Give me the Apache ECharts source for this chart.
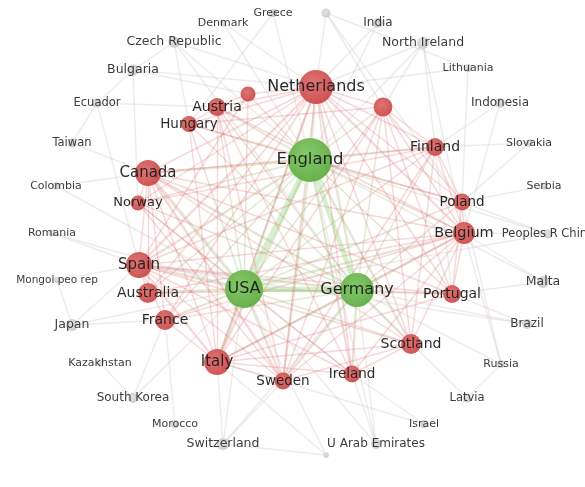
<!DOCTYPE html>
<html><head><meta charset="utf-8">
<script src="https://cdn.jsdelivr.net/npm/echarts@6/dist/echarts.min.js"></script>
<style>html,body{margin:0;padding:0;background:#fff;}#c{width:585px;height:487px;}</style>
</head><body><div id="c"></div>
<script>
// Map data (layout coordinates, occurrence weights, cluster)
const names = ["England","USA","Germany","Netherlands","Canada","Spain","Italy","Belgium","Scotland","France","Australia","Finland","Poland","Portugal","Austria","Hungary","Norway","Sweden","Ireland","Unlabelled A","Unlabelled B",
"Greece","Unlabelled C","Denmark","India","North Ireland","Czech Republic","Lithuania","Bulgaria","Ecuador","Indonesia","Taiwan","Slovakia","Colombia","Serbia","Romania","Peoples R China","Mongol peo rep","Malta","Japan","Brazil","Kazakhstan","Russia","South Korea","Latvia","Morocco","Israel","Switzerland","U Arab Emirates","Unlabelled D"];
const xs = [310,244,357,316,148,139,217,464,411,165,148,435,462,452,217,189,138,283,352,248,383,
273,326,223,378,423,174,468,133,97,500,72,529,56,544,52,548,57,543,72,527,100,501,133,467,175,424,223,376,326];
const ys = [160,289,290,87,173,265,362,233,344,320,293,147,202,294,107,124,203,381,374,94,107,
13,13,23,23,43,42,68,70,103,103,143,143,186,186,233,234,280,282,325,324,363,364,398,398,424,424,444,444,455];
const weights = [121,90,72,72,42,42,42,30,25,25,25,20,18,20,20,16,14,18,18,14,22,
4,5,3,6,9,8,4,8,5,6,5,3.5,3.5,3,3,5,2.5,9,9,6,3.5,4,6,5,4,4,9,6,2];
const clusters = [2,2,2,1,1,1,1,1,1,1,1,1,1,1,1,1,1,1,1,1,1,
0,0,0,0,0,0,0,0,0,0,0,0,0,0,0,0,0,0,0,0,0,0,0,0,0,0,0,0,0];
const hiddenLabels = ["Unlabelled A","Unlabelled B","Unlabelled C","Unlabelled D"];

// co-authorship links: [source, target, strength]
const links = [
["England","USA",6],["England","Germany",5],["USA","Germany",6],
["England","Netherlands",2],["England","Canada",2],["England","Spain",2],["England","Italy",2],["England","Belgium",1],["England","Scotland",2],["England","Finland",1],["England","Portugal",1],["England","Poland",1],["England","Austria",1],["England","Hungary",1],["England","Norway",1],["England","Australia",1],["England","France",1],["England","Sweden",2],["England","Ireland",2],["England","Unlabelled A",1],["England","Unlabelled B",1],
["USA","Netherlands",2],["USA","Canada",3],["USA","Spain",3],["USA","Italy",3],["USA","Belgium",2],["USA","Scotland",1],["USA","Finland",1],["USA","Portugal",1],["USA","Poland",1],["USA","Austria",1],["USA","Hungary",1],["USA","Norway",1],["USA","Australia",2],["USA","France",2],["USA","Sweden",2],["USA","Ireland",1],["USA","Unlabelled A",1],["USA","Unlabelled B",1],
["Germany","Netherlands",2],["Germany","Canada",2],["Germany","Spain",2],["Germany","Italy",2],["Germany","Belgium",2],["Germany","Scotland",2],["Germany","Finland",1],["Germany","Portugal",1],["Germany","Poland",1],["Germany","Austria",1],["Germany","Hungary",1],["Germany","Norway",1],["Germany","Australia",1],["Germany","France",1],["Germany","Sweden",2],["Germany","Ireland",2],["Germany","Unlabelled B",1],
["Netherlands","Canada",1],["Netherlands","Spain",2],["Netherlands","Italy",1],["Netherlands","Belgium",2],["Netherlands","Scotland",1],["Netherlands","Finland",1],["Netherlands","Portugal",1],["Netherlands","Poland",1],["Netherlands","Austria",1],["Netherlands","Hungary",1],["Netherlands","Norway",1],["Netherlands","Australia",1],["Netherlands","France",1],["Netherlands","Sweden",1],["Netherlands","Ireland",1],["Netherlands","Unlabelled A",1],["Netherlands","Unlabelled B",1],
["Canada","Spain",1],["Canada","Italy",1],["Canada","Belgium",1],["Canada","Australia",1],["Canada","France",1],["Canada","Sweden",2],["Canada","Norway",1],["Canada","Scotland",1],["Canada","Portugal",1],["Canada","Finland",1],
["Spain","Italy",2],["Spain","Belgium",1],["Spain","Portugal",1],["Spain","France",1],["Spain","Australia",1],["Spain","Sweden",1],["Spain","Scotland",1],["Spain","Ireland",1],["Spain","Finland",1],["Spain","Unlabelled A",1],
["Italy","Belgium",1],["Italy","France",1],["Italy","Sweden",1],["Italy","Ireland",1],["Italy","Scotland",1],["Italy","Portugal",1],["Italy","Austria",1],["Italy","Hungary",1],["Italy","Unlabelled B",1],
["Belgium","Poland",1],["Belgium","Finland",1],["Belgium","Portugal",1],["Belgium","Scotland",1],["Belgium","Sweden",1],["Belgium","Ireland",1],["Belgium","Austria",1],["Belgium","Unlabelled B",1],["Belgium","France",1],["Belgium","Australia",1],
["Finland","Poland",1],["Finland","Unlabelled B",1],["Finland","Sweden",1],["Finland","Norway",1],["Finland","Scotland",1],
["Poland","Portugal",1],["Poland","Unlabelled B",1],["Poland","Hungary",1],
["Austria","Hungary",1],["Austria","Sweden",1],["Austria","Ireland",1],["Austria","Unlabelled A",1],
["Sweden","Norway",1],["Sweden","Scotland",1],["Ireland","Scotland",1],["Ireland","Norway",1],
["Unlabelled B","Scotland",1],["Unlabelled B","Portugal",1],["Unlabelled B","Hungary",1],["Unlabelled B","Sweden",1],
["Greece","Hungary",1],["Greece","England",1],
["Unlabelled C","Unlabelled B",1],["Unlabelled C","Netherlands",1],["Unlabelled C","Poland",1],
["India","England",1],["India","Netherlands",1],
["North Ireland","Unlabelled B",1],["North Ireland","England",1],["North Ireland","Belgium",1],["North Ireland","Portugal",1],["North Ireland","Netherlands",1],
["Czech Republic","Bulgaria",1],["Czech Republic","Hungary",1],["Czech Republic","England",1],["Czech Republic","Netherlands",1],["Czech Republic","Germany",1],
["Denmark","England",1],["Denmark","Netherlands",1],
["Bulgaria","Ecuador",1],["Bulgaria","Norway",1],["Bulgaria","Netherlands",1],["Bulgaria","Unlabelled A",1],
["Ecuador","Austria",1],["Ecuador","Taiwan",1],["Ecuador","Spain",1],
["Taiwan","Canada",1],["Colombia","Canada",1],["Colombia","USA",1],
["Romania","Spain",1],["Romania","USA",1],
["Mongol peo rep","Japan",1],["Mongol peo rep","Spain",1],
["Japan","France",1],["Japan","Spain",1],["Japan","USA",1],
["Kazakhstan","South Korea",1],["South Korea","France",1],["South Korea","USA",1],
["Morocco","France",1],
["Switzerland","Italy",1],["Switzerland","Sweden",1],["Switzerland","Unlabelled D",1],["Switzerland","Germany",1],["Switzerland","USA",1],
["U Arab Emirates","Ireland",1],["U Arab Emirates","Germany",1],["U Arab Emirates","USA",1],["U Arab Emirates","England",1],
["Unlabelled D","USA",1],["Unlabelled D","Italy",1],
["Israel","Ireland",1],["Israel","Italy",1],
["Latvia","Russia",1],["Latvia","Germany",1],
["Russia","Belgium",1],["Russia","Germany",1],["Russia","Poland",1],
["Brazil","Portugal",1],["Brazil","Germany",1],["Brazil","Spain",1],
["Malta","Portugal",1],["Malta","Belgium",1],["Malta","England",1],
["Peoples R China","Belgium",1],["Peoples R China","Poland",1],["Peoples R China","England",1],["Peoples R China","USA",1],
["Serbia","Poland",1],["Slovakia","Poland",1],["Slovakia","Finland",1],
["Indonesia","Finland",1],["Indonesia","Belgium",1],
["Lithuania","Poland",1],["Lithuania","Netherlands",1],["Lithuania","Unlabelled C",1]
];

function grad(a, b){
  return {type:'radial', x:0.42, y:0.4, r:0.6, colorStops:[{offset:0,color:a},{offset:1,color:b}]};
}
const nodeFill = {
  2: grad('#80c964','#62ad46'),
  1: grad('#de6e6e','#cc4c4c'),
  0: grad('#e0e0e0','#cbcbcb')
};
const idx = {};
names.forEach((n,i)=>idx[n]=i);

const nodes = names.map((n,i)=>({
  name:n,
  value:[xs[i], ys[i]],
  symbolSize: Math.sqrt(weights[i])*4,
  itemStyle:{color: nodeFill[clusters[i]], opacity: 0.95},
  label:{
    show: hiddenLabels.indexOf(n) < 0,
    position:'inside',
    fontFamily:'DejaVu Sans',
    fontSize: Math.round((9 + 1.6*Math.log(weights[i]))*2)/2,
    color: clusters[i] === 0 ? '#333' : '#1c1c1c'
  }
}));

const GREEN = 'rgba(125,200,95,0.6)';
const RED = 'rgba(222,112,112,0.55)';
function linkColor(a, b){
  const ia = idx[a], ib = idx[b];
  const ca = clusters[ia], cb = clusters[ib];
  if (ca === 0 || cb === 0) return 'rgba(205,188,188,0.6)';
  if (ca === 2 && cb === 2) return 'rgba(130,205,100,0.65)';
  if (ca === 1 && cb === 1) return RED;
  // mixed cluster: blend along the line from green end to red end
  const g = ca === 2 ? ia : ib, r = ca === 2 ? ib : ia;
  const x0 = xs[g] <= xs[r] ? 0 : 1, y0 = ys[g] <= ys[r] ? 0 : 1;
  return {type:'linear', x:x0, y:y0, x2:1-x0, y2:1-y0,
    colorStops:[{offset:0,color:GREEN},{offset:1,color:RED}]};
}
const edges = links.map(l=>({
  source:l[0], target:l[1],
  lineStyle:{color: linkColor(l[0],l[1]), width: 0.6 + l[2]*0.85}
}));

const chart = echarts.init(document.getElementById('c'), null, {renderer:'canvas'});
chart.setOption({
  animation:false,
  backgroundColor:'#fff',
  grid:{left:0,right:0,top:0,bottom:0},
  xAxis:{type:'value',min:0,max:585,show:false},
  yAxis:{type:'value',min:0,max:487,inverse:true,show:false},
  series:[{
    type:'graph',
    coordinateSystem:'cartesian2d',
    layout:'none',
    data:nodes,
    links:edges,
    lineStyle:{curveness:0},
    emphasis:{disabled:true},
    z:2
  }]
});
</script></body></html>
